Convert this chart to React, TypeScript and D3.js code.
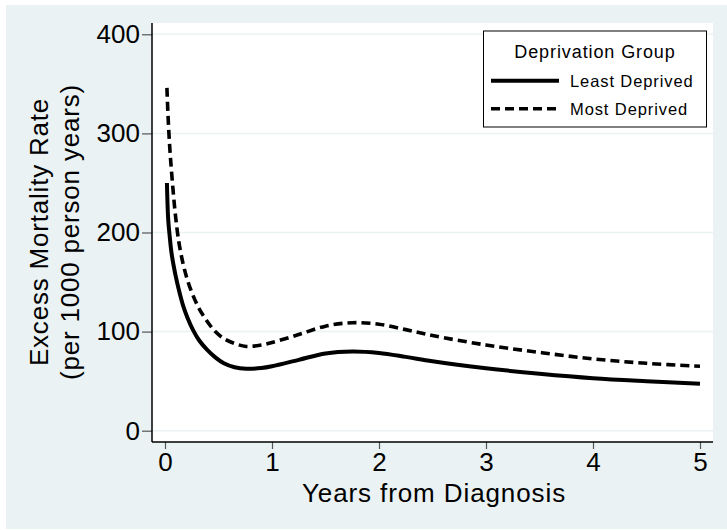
import React, { useEffect, useRef } from 'react';
import * as d3 from 'd3';

// Years since diagnosis (shared x grid for both curves)
const years = [0.018, 0.03, 0.045, 0.06, 0.08, 0.1, 0.13, 0.17, 0.21, 0.26, 0.32, 0.39, 0.47, 0.55, 0.65, 0.76, 0.9, 1.0, 1.25, 1.5, 1.75, 2.0, 2.25, 2.5, 3.0, 3.5, 4.0, 4.5, 5.0];

// Excess mortality per 1000 person years
const leastDeprived = [250, 213, 195, 180, 167, 156, 142, 126, 114, 102, 91, 82, 74, 68, 64, 62.5, 63.2, 65, 71.5, 78, 80, 78.5, 74.5, 70, 63, 57.5, 53, 50, 47.5];
const mostDeprived = [346, 314, 285, 263, 237, 215, 190, 168, 152, 137, 123, 111, 100, 93, 88, 85, 86.5, 89, 97, 105.5, 109, 107.5, 102, 96, 86.5, 79, 72.5, 68, 65];

const xTicks = [0, 1, 2, 3, 4, 5];
const yTicks = [0, 100, 200, 300, 400];

const seriesNames = ['Least Deprived', 'Most Deprived'];
const legendTitle = 'Deprivation Group';

const FONT = '"Liberation Sans", Arial, Helvetica, sans-serif';

const App: React.FC = () => {
  const svgRef = useRef<SVGSVGElement>(null);
  const width = 727;
  const height = 530;

  useEffect(() => {
    if (!svgRef.current) return;
    const svg = d3.select(svgRef.current);
    svg.selectAll('*').remove();

    // plot region bounds
    const plot = { left: 152, right: 713, top: 23, bottom: 442 };

    const x = d3.scaleLinear().domain([0, 5]).range([165, 700]);
    const y = d3.scaleLinear().domain([0, 400]).range([430.7, 34.3]);

    // graph background
    svg.append('rect')
      .attr('x', 6).attr('y', 5)
      .attr('width', width - 6).attr('height', height - 6)
      .attr('fill', '#eaf2f3');

    // plot region
    svg.append('rect')
      .attr('x', plot.left).attr('y', plot.top)
      .attr('width', plot.right - plot.left).attr('height', plot.bottom - plot.top)
      .attr('fill', '#ffffff');

    // gridlines
    svg.append('g')
      .selectAll('line')
      .data(yTicks)
      .enter()
      .append('line')
      .attr('x1', plot.left).attr('x2', plot.right)
      .attr('y1', d => y(d)).attr('y2', d => y(d))
      .attr('stroke', '#eaf2f3')
      .attr('stroke-width', 1.5);

    // y axis
    const yAxis = svg.append('g')
      .attr('transform', `translate(${plot.left},0)`)
      .call(d3.axisLeft(y).tickValues(yTicks).tickSize(10).tickPadding(2).tickFormat(d3.format('d')));
    yAxis.select('.domain').remove();
    yAxis.selectAll('.tick line').attr('stroke', '#555').attr('stroke-width', 1.2);
    yAxis.selectAll('.tick text')
      .attr('fill', '#000')
      .style('font-family', FONT)
      .style('font-size', '26px');

    // x axis
    const xAxis = svg.append('g')
      .attr('transform', `translate(0,${plot.bottom})`)
      .call(d3.axisBottom(x).tickValues(xTicks).tickSize(7).tickPadding(4).tickFormat(d3.format('d')));
    xAxis.select('.domain').remove();
    xAxis.selectAll('.tick line').attr('stroke', '#555').attr('stroke-width', 1.2);
    xAxis.selectAll('.tick text')
      .attr('fill', '#000')
      .style('font-family', FONT)
      .style('font-size', '26px');

    // axis lines
    svg.append('line')
      .attr('x1', plot.left).attr('x2', plot.left)
      .attr('y1', plot.top).attr('y2', plot.bottom)
      .attr('stroke', '#000').attr('stroke-width', 1.5);
    svg.append('line')
      .attr('x1', plot.left).attr('x2', plot.right)
      .attr('y1', plot.bottom).attr('y2', plot.bottom)
      .attr('stroke', '#000').attr('stroke-width', 1.5);

    // axis titles
    svg.append('text')
      .attr('x', 434).attr('y', 502)
      .attr('text-anchor', 'middle')
      .attr('letter-spacing', 0.9)
      .style('font-family', FONT)
      .style('font-size', '26px')
      .text('Years from Diagnosis');

    const yTitle = svg.append('g')
      .attr('transform', 'translate(0,232) rotate(-90)');
    yTitle.append('text')
      .attr('x', 0).attr('y', 47.5)
      .attr('text-anchor', 'middle')
      .attr('letter-spacing', 0.8)
      .style('font-family', FONT)
      .style('font-size', '26px')
      .text('Excess Mortality Rate');
    yTitle.append('text')
      .attr('x', 0).attr('y', 79)
      .attr('text-anchor', 'middle')
      .attr('letter-spacing', 0.8)
      .style('font-family', FONT)
      .style('font-size', '26px')
      .text('(per 1000 person years)');

    // curves
    const line = d3.line<number>()
      .x((_, i) => x(years[i]))
      .y(d => y(d))
      .curve(d3.curveCatmullRom.alpha(0.5));

    svg.append('path')
      .attr('d', line(leastDeprived))
      .attr('fill', 'none')
      .attr('stroke', '#000')
      .attr('stroke-width', 4);

    svg.append('path')
      .attr('d', line(mostDeprived))
      .attr('fill', 'none')
      .attr('stroke', '#000')
      .attr('stroke-width', 3.6)
      .attr('stroke-dasharray', '9,5');

    // legend
    const lg = svg.append('g');
    lg.append('rect')
      .attr('x', 483.5).attr('y', 31)
      .attr('width', 223).attr('height', 96)
      .attr('fill', '#fff')
      .attr('stroke', '#000')
      .attr('stroke-width', 1);
    lg.append('text')
      .attr('x', 595).attr('y', 58)
      .attr('text-anchor', 'middle')
      .attr('letter-spacing', 0.9)
      .style('font-family', FONT)
      .style('font-size', '18px')
      .text(legendTitle);

    seriesNames.forEach((name, i) => {
      const baseline = 87.3 + i * 28;
      lg.append('line')
        .attr('x1', 491).attr('x2', 559)
        .attr('y1', baseline - 6.5).attr('y2', baseline - 6.5)
        .attr('stroke', '#000')
        .attr('stroke-width', i === 0 ? 4 : 3.6)
        .attr('stroke-dasharray', i === 0 ? null : '9,5');
      lg.append('text')
        .attr('x', 570).attr('y', baseline)
        .attr('letter-spacing', 0.9)
        .style('font-family', FONT)
        .style('font-size', '16.5px')
        .text(name);
    });
  }, []);

  return (
    <svg
      ref={svgRef}
      width={width}
      height={height}
      style={{ position: 'absolute', left: 0, top: 0, display: 'block', background: '#fff' }}
    />
  );
};

export default App;
